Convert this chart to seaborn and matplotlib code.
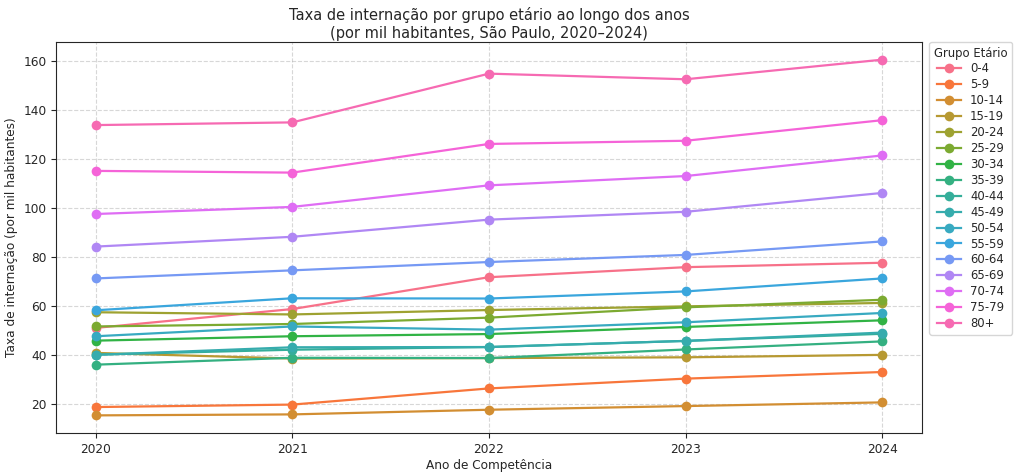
import matplotlib
matplotlib.use("Agg")
import matplotlib.pyplot as plt
import seaborn as sns
import pandas as pd

# ── Dados (taxa por mil habitantes) ─────────────────────────────────────────
ANOS = [2020, 2021, 2022, 2023, 2024]
GRUPOS = ["0-4", "5-9", "10-14", "15-19", "20-24", "25-29", "30-34", "35-39",
          "40-44", "45-49", "50-54", "55-59", "60-64", "65-69", "70-74",
          "75-79", "80+"]

taxa_0_4 = [51.0, 58.7, 71.7, 75.8, 77.6]
taxa_5_9 = [18.7, 19.7, 26.3, 30.3, 33.0]
taxa_10_14 = [15.3, 15.7, 17.6, 19.1, 20.6]
taxa_15_19 = [40.8, 38.5, 38.7, 39.0, 40.0]
taxa_20_24 = [57.4, 56.5, 58.3, 59.8, 61.2]
taxa_25_29 = [51.6, 52.6, 55.2, 59.4, 62.5]
taxa_30_34 = [45.8, 47.6, 48.5, 51.4, 54.1]
taxa_35_39 = [36.0, 38.8, 38.7, 42.2, 45.5]
taxa_40_44 = [40.1, 42.1, 43.2, 45.7, 48.6]
taxa_45_49 = [40.0, 43.1, 43.2, 45.7, 49.1]
taxa_50_54 = [47.6, 51.6, 50.3, 53.3, 57.1]
taxa_55_59 = [58.2, 63.1, 63.0, 65.9, 71.2]
taxa_60_64 = [71.2, 74.5, 77.9, 80.8, 86.3]
taxa_65_69 = [84.2, 88.2, 95.2, 98.4, 106.1]
taxa_70_74 = [97.5, 100.4, 109.2, 113.0, 121.4]
taxa_75_79 = [115.1, 114.4, 126.1, 127.4, 135.8]
taxa_80_mais = [133.8, 134.9, 154.8, 152.5, 160.5]

SERIES = [taxa_0_4, taxa_5_9, taxa_10_14, taxa_15_19, taxa_20_24, taxa_25_29,
          taxa_30_34, taxa_35_39, taxa_40_44, taxa_45_49, taxa_50_54,
          taxa_55_59, taxa_60_64, taxa_65_69, taxa_70_74, taxa_75_79,
          taxa_80_mais]

DARK = "#262626"

df = pd.DataFrame(
    [(ano, grupo, v) for grupo, vals in zip(GRUPOS, SERIES)
     for ano, v in zip(ANOS, vals)],
    columns=["Ano", "Grupo Etário", "Taxa"],
)
df["Grupo Etário"] = pd.Categorical(df["Grupo Etário"], categories=GRUPOS, ordered=True)

plt.rcParams.update({
    "font.family": "DejaVu Sans",
    "axes.edgecolor": DARK,
    "xtick.color": DARK,
    "ytick.color": DARK,
    "text.color": DARK,
    "axes.labelcolor": DARK,
})

fig, ax = plt.subplots(figsize=(10.24, 4.76), dpi=100)
sns.lineplot(data=df, x="Ano", y="Taxa", hue="Grupo Etário",
             palette=sns.color_palette("husl", len(GRUPOS)),
             marker="o", markersize=7, markeredgewidth=0, linewidth=1.6,
             ax=ax)

ax.set_title("Taxa de internação por grupo etário ao longo dos anos\n"
             "(por mil habitantes, São Paulo, 2020–2024)", fontsize=10.5, pad=3)
ax.set_xlabel("Ano de Competência", fontsize=8.7, labelpad=2)
ax.set_ylabel("Taxa de internação (por mil habitantes)", fontsize=8.7)
ax.set_xticks(ANOS)
ax.tick_params(labelsize=8.7)
ax.grid(True, linestyle="--", alpha=0.5)
ax.legend(title="Grupo Etário", bbox_to_anchor=(1.009, 1), loc="upper left",
          fontsize=8.4, title_fontsize=8.4, labelspacing=0.25,
          handlelength=2.0, borderaxespad=0)

fig.subplots_adjust(left=0.055, right=0.900, top=0.912, bottom=0.090)
fig.savefig("out.png", dpi=100)
